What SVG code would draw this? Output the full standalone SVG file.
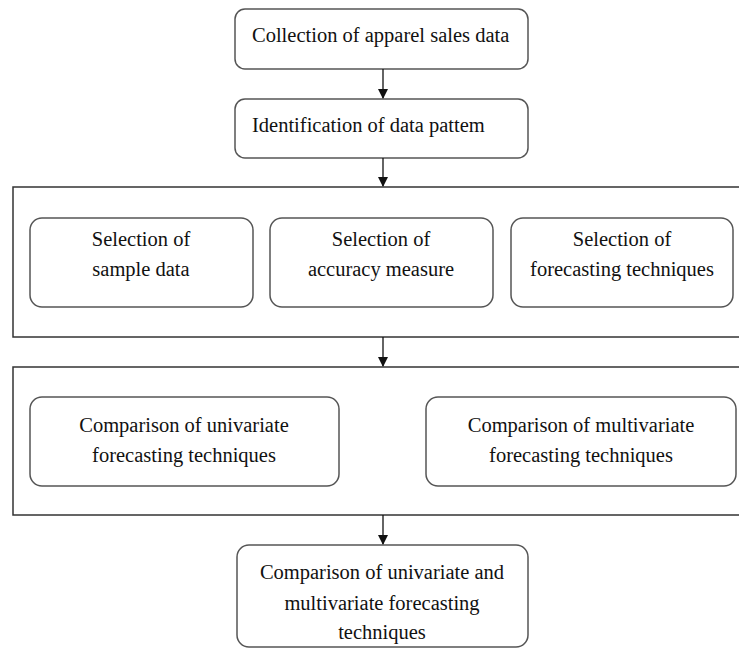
<svg xmlns="http://www.w3.org/2000/svg" width="739" height="648" viewBox="0 0 739 648">
<style>
.box{fill:#fff;stroke:#555;stroke-width:1.5}
.frame{fill:#fff;stroke:#333;stroke-width:1.5}
.t{font-family:"Liberation Serif","Times New Roman",serif;font-size:20.5px;fill:#111}
.c{text-anchor:middle}
.ln{stroke:#111;stroke-width:1.3;fill:none}
</style>
<defs>
<marker id="ah" markerWidth="10" markerHeight="10" refX="9" refY="5" orient="auto" markerUnits="userSpaceOnUse">
<path d="M0,0 L10,5 L0,10 Z" fill="#111"/>
</marker>
</defs>
<rect width="739" height="648" fill="#fff"/>
<g id="frame1"><rect class="frame" x="13" y="187" width="740" height="150"/></g>
<g id="frame2"><rect class="frame" x="13" y="367" width="740" height="148"/></g>
<g id="n1"><rect class="box" x="235" y="9" width="293" height="60" rx="10"/><text class="t" x="252" y="42">Collection of apparel sales data</text></g>
<g id="n2"><rect class="box" x="235" y="99" width="293" height="59" rx="10"/><text class="t" x="252" y="132">Identification of data pattem</text></g>
<g id="n3"><rect class="box" x="30" y="218" width="223" height="89" rx="12"/><text class="t c" x="141" y="246">Selection of</text><text class="t c" x="141" y="276">sample data</text></g>
<g id="n4"><rect class="box" x="270" y="218" width="223" height="89" rx="12"/><text class="t c" x="381" y="246">Selection of</text><text class="t c" x="381" y="276">accuracy measure</text></g>
<g id="n5"><rect class="box" x="511" y="218" width="222" height="89" rx="12"/><text class="t c" x="622" y="246">Selection of</text><text class="t c" x="622" y="276">forecasting techniques</text></g>
<g id="n6"><rect class="box" x="30" y="397" width="309" height="89" rx="12"/><text class="t c" x="184" y="432">Comparison of univariate</text><text class="t c" x="184" y="462">forecasting techniques</text></g>
<g id="n7"><rect class="box" x="426" y="397" width="310" height="89" rx="12"/><text class="t c" x="581" y="432">Comparison of multivariate</text><text class="t c" x="581" y="462">forecasting techniques</text></g>
<g id="n8"><rect class="box" x="237" y="545" width="291" height="102" rx="12"/><text class="t c" x="382" y="579">Comparison of univariate and</text><text class="t c" x="382" y="610">multivariate forecasting</text><text class="t c" x="382" y="639">techniques</text></g>
<g id="connectors">
<line class="ln" x1="383" y1="69" x2="383" y2="98" marker-end="url(#ah)"/>
<line class="ln" x1="383" y1="158" x2="383" y2="186" marker-end="url(#ah)"/>
<line class="ln" x1="383" y1="337" x2="383" y2="366" marker-end="url(#ah)"/>
<line class="ln" x1="383" y1="515" x2="383" y2="544" marker-end="url(#ah)"/>
</g>
</svg>
